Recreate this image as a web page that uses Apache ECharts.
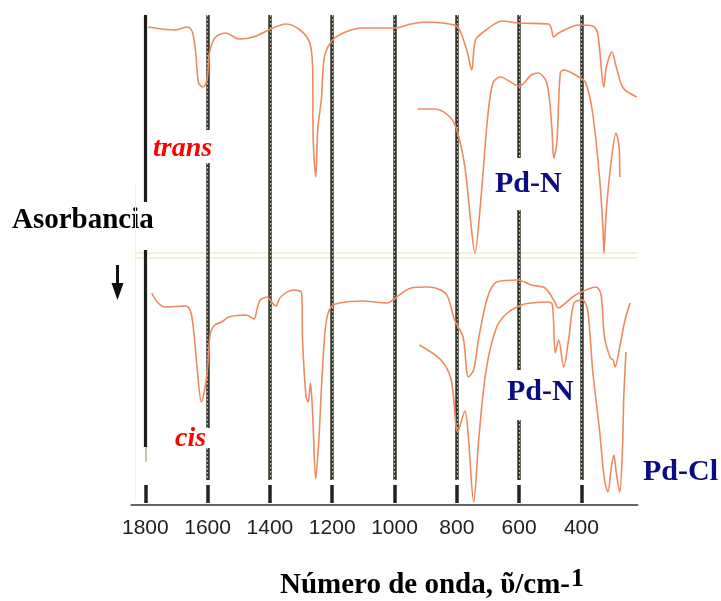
<!DOCTYPE html>
<html><head><meta charset="utf-8">
<script src="https://cdn.jsdelivr.net/npm/echarts@6/dist/echarts.min.js"></script>
<style>html,body{margin:0;padding:0;background:#fff}#c{width:721px;height:601px}</style>
</head><body><div id="c"></div>
<script>
// x tick labels (wavenumber, cm-1)
const tickLabels = [1800, 1600, 1400, 1200, 1000, 800, 600, 400];

// spectra: [wavenumber, vertical offset (arbitrary absorbance units)]
const transMid = [[1791,47.8],[1708,47.5],[1664,47.8],[1649,47.3],[1639,45.5],[1629,42.2],[1615,41.8],[1602,42.5],[1594,45.2],[1577,46.7],[1543,47.2],[1498,46.6],[1453,46.8],[1397,47.6],[1350,48.1],[1303,47.5],[1272,46.2],[1263,43.8],[1261,36.5],[1253,32.8],[1246,37.8],[1235,40.5],[1225,44.8],[1199,46.5],[1157,47.3],[1105,47.7],[1001,47.7],[947,48.1],[904,48.3],[807,48.0],[791,47.5],[768,45.5],[752,43.5],[740,46.5],[706,47.5],[655,48.4],[604,48.2],[506,48.1],[497,47.7],[489,46.8],[473,47.2],[408,48.0],[364,47.9],[348,47.2],[328,41.8],[320,43.8],[302,45.3],[288,43.8],[266,41.7],[222,40.8]];
const transFar = [[926,39.6],[872,39.6],[829,39.0],[802,37.7],[774,33.8],[757,28.8],[742,25.2],[723,30.5],[701,38.8],[684,42.2],[661,42.8],[599,41.9],[561,43.0],[539,43.2],[511,42.2],[495,37.8],[489,34.7],[479,36.2],[468,43.2],[457,43.5],[408,42.8],[386,42.2],[364,39.2],[342,32.8],[331,27.8],[328,25.2],[320,29.5],[304,34.5],[289,37.2],[279,35.8],[277,32.8]];
const cisMid = [[1779,21.2],[1762,20.3],[1737,19.8],[1669,19.9],[1654,19.3],[1644,17.2],[1634,13.8],[1620,10.3],[1608,11.8],[1600,13.8],[1591,17.2],[1577,18.0],[1555,18.3],[1532,18.8],[1476,19.0],[1451,18.6],[1442,19.5],[1431,20.5],[1408,20.8],[1395,20.3],[1381,19.9],[1366,20.8],[1324,21.5],[1298,21.2],[1295,16.3],[1284,10.8],[1277,10.3],[1270,12.2],[1263,9.2],[1253,2.6],[1243,6.5],[1232,13.2],[1220,18.2],[1204,19.8],[1178,20.2],[1105,20.4],[1022,20.2],[1001,20.6],[947,21.7],[894,21.8],[851,21.5],[829,20.8],[807,18.5],[780,16.8],[763,12.8],[746,13.5],[729,16.8],[701,20.8],[672,22.3],[604,22.5],[561,22.0],[517,21.7],[489,20.5],[473,19.7],[451,20.2],[419,21.0],[353,21.8],[337,21.0],[326,16.8],[307,14.7],[298,14.5],[292,13.8],[277,15.8],[260,18.5],[244,20.2]];
const cisFar = [[920,16.0],[851,14.5],[818,12.5],[797,7.3],[774,9.4],[763,6.8],[746,0.3],[729,6.8],[706,13.5],[672,17.8],[638,19.2],[593,20.0],[561,20.2],[506,20.3],[493,20.0],[484,15.2],[473,16.5],[457,13.8],[440,16.8],[424,20.2],[397,20.5],[380,19.5],[364,13.5],[342,7.5],[326,2.5],[315,1.3],[304,3.8],[296,5.0],[288,3.2],[277,1.3],[268,5.8],[264,10.8],[257,15.3]];

// reference lines: [wavenumber, [[from, to], ...]]
const hatchedLines = [[1600,[[49,37.5],[34.2,7.7],[5.7,2.5]]],[1400,[[49,2.5]]],[1200,[[49,2.5]]],[1000,[[49,2.5]]],[800,[[49,2.5]]],[600,[[49,34.7],[29.5,13.5],[8.5,2.5]]],[400,[[49,2.5]]]];
const solidLine = [1800, [[49,30.3],[25.5,5.8]]];
const faintLine = [1800, [[5.8,4.3]]];
const frameX = 1833;
const bandLevels = [25.2, 24.7];

const X_MIN = 220, X_MAX = 1845, Y_MIN = 0, Y_MAX = 49;

const seg = (v, spans) => spans.map(([a, b]) => ({ coords: [[v, a], [v, b]] }));
const hatchData = hatchedLines.flatMap(([v, s]) => seg(v, s));
const solidData = seg(solidLine[0], solidLine[1]);
const faintData = seg(faintLine[0], faintLine[1]);
const tickData = tickLabels.map(v => ({ coords: [[v, 2.0], [v, 0.2]] }));
const bandData = bandLevels.map(y => ({ coords: [[frameX, y], [X_MIN, y]] }));
const frameData = [{ coords: [[frameX, 32], [frameX, 0.3]] }];

const curveColor = '#ef8a5e';
const curve = (name, data) => ({
  name, type: 'line', data, showSymbol: false, smooth: 0.3, z: 5,
  lineStyle: { color: curveColor, width: 1.6 }, silent: true
});
const linesSeries = (data, style, z) => ({
  type: 'lines', coordinateSystem: 'cartesian2d', polyline: false, data, z, silent: true,
  lineStyle: Object.assign({ opacity: 1, curveness: 0 }, style), effect: { show: false }
});

const serif = '"Liberation Serif", "Times New Roman", serif';
const txt = (text, x, y, font, fill) => ({
  type: 'text', x, y, silent: true,
  style: { text, font, fill, align: 'left', verticalAlign: 'middle', textAlign: 'left', textVerticalAlign: 'middle' }
});

const chart = echarts.init(document.getElementById('c'), null, { renderer: 'canvas' });
chart.setOption({
  animation: false,
  backgroundColor: '#ffffff',
  grid: { left: 131.3, right: 83.5, top: 15, bottom: 96 },
  xAxis: {
    type: 'value', inverse: true, min: X_MIN, max: X_MAX,
    axisLine: { show: true, lineStyle: { color: '#666', width: 2 } },
    axisTick: { show: false },
    splitLine: { show: false },
    axisLabel: { customValues: tickLabels, formatter: v => String(v), fontFamily: '"Liberation Sans", Arial, sans-serif', fontSize: 21, color: '#222', margin: 13 }
  },
  yAxis: { type: 'value', min: Y_MIN, max: Y_MAX, show: false },
  series: [
    linesSeries(bandData, { color: '#f2eec4', width: 1.5 }, 1),
    linesSeries(frameData, { color: '#f6f3d8', width: 1 }, 1),
    linesSeries(hatchData, { color: '#34342a', width: 3.5 }, 2),
    linesSeries(hatchData, { color: '#d6d6c2', width: 1.2, type: [1.5, 2.5] }, 3),
    linesSeries(solidData, { color: '#1c1c18', width: 3.2 }, 2),
    linesSeries(faintData, { color: '#b8b48a', width: 1.5 }, 2),
    linesSeries(tickData, { color: '#222', width: 3.5 }, 2),
    curve('trans (IR medio)', transMid),
    curve('trans (IR lejano)', transFar),
    curve('cis (IR medio)', cisMid),
    curve('cis (IR lejano)', cisFar)
  ],
  graphic: [
    txt('Asorbancia', 12, 221, 'bold 29px ' + serif, '#000'),
    txt('trans', 153, 149, 'italic bold 28px ' + serif, '#ff0000'),
    txt('cis', 175, 439, 'italic bold 28px ' + serif, '#ff0000'),
    txt('Pd-N', 495, 184, 'bold 30px ' + serif, '#0b0b84'),
    txt('Pd-N', 507, 392.5, 'bold 30px ' + serif, '#0b0b84'),
    txt('Pd-Cl', 643, 472, 'bold 30px ' + serif, '#0b0b84'),
    txt('Número de onda, ῦ/cm-', 280, 586, 'bold 29px ' + serif, '#000'),
    txt('1', 571, 579, 'bold 26px ' + serif, '#000'),
    { type: 'line', silent: true, shape: { x1: 117.5, y1: 265, x2: 117.5, y2: 287 }, style: { stroke: '#111', lineWidth: 3 } },
    { type: 'polygon', silent: true, shape: { points: [[111.5, 283], [123.5, 283], [117.5, 300]] }, style: { fill: '#111' } }
  ]
});
</script>
</body></html>
